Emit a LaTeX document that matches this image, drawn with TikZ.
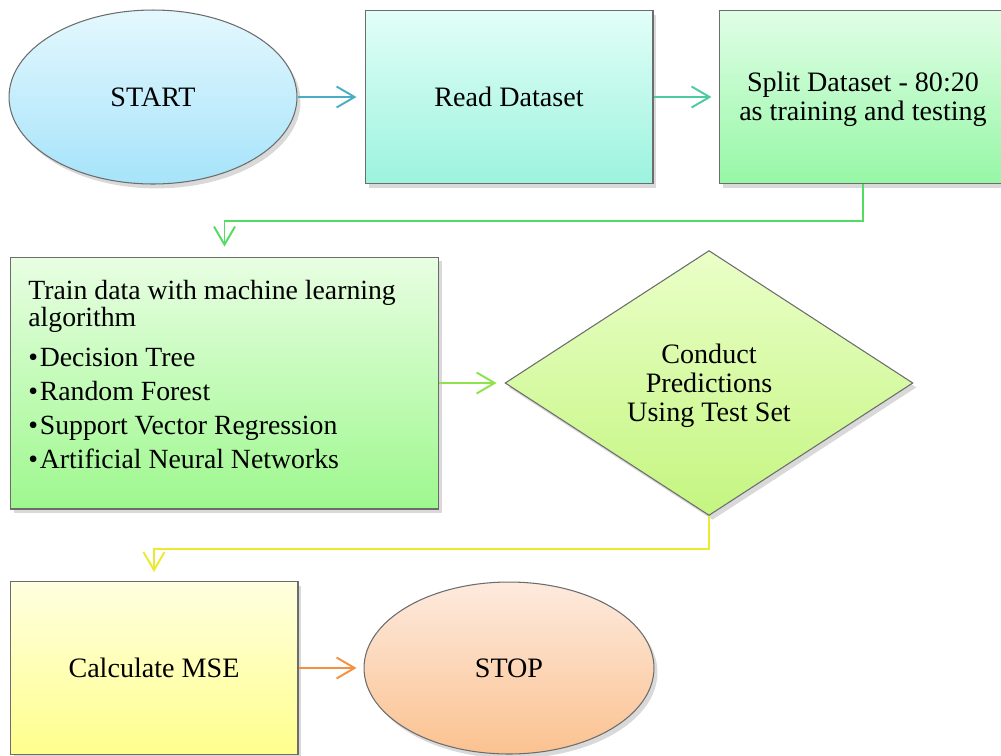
\documentclass[tikz,border=0pt]{standalone}
\usepackage{fontspec}
\setmainfont{Liberation Serif}
\usetikzlibrary{shapes.geometric,arrows.meta,shadows}
\definecolor{startT}{HTML}{E4F8FE}\definecolor{startB}{HTML}{A6E3FA}
\definecolor{readT}{HTML}{E2FEF8}\definecolor{readB}{HTML}{9CF3DE}
\definecolor{splitT}{HTML}{E0FEE6}\definecolor{splitB}{HTML}{96F7A6}
\definecolor{trainT}{HTML}{E8FEE2}\definecolor{trainB}{HTML}{9EF88E}
\definecolor{predT}{HTML}{EAFFC8}\definecolor{predB}{HTML}{C4F580}
\definecolor{calcT}{HTML}{FFFFE0}\definecolor{calcB}{HTML}{FFFF8C}
\definecolor{stopT}{HTML}{FDEADE}\definecolor{stopB}{HTML}{FBC290}
\definecolor{cA}{HTML}{4BACC6}\definecolor{cB}{HTML}{4CCBA0}
\definecolor{cC}{HTML}{52DC62}\definecolor{cD}{HTML}{8EE24A}
\definecolor{cE}{HTML}{EAEA30}\definecolor{cF}{HTML}{F59040}
\begin{document}
\begin{tikzpicture}[x=0.02cm,y=-0.02cm,
  box/.style={draw=gray!85!black, line width=0.6pt, inner sep=0pt,
    font=\fontsize{16}{16.5}\selectfont, align=center,
    drop shadow={shadow xshift=2pt,shadow yshift=-2.5pt,opacity=0.3}},
  arr/.style={line width=1.1pt, -{Straight Barb[length=3.6mm,width=4.2mm]}, shorten >=0.15cm}]
\useasboundingbox (0,0) rectangle (1001,755);
\clip (0,0) rectangle (1001,755);
\node[box, ellipse, minimum width=5.76cm, minimum height=3.48cm, top color=startT, bottom color=startB] (start) at (153,97) {START};
\node[box, rectangle, minimum width=5.76cm, minimum height=3.46cm, top color=readT, bottom color=readB] (read) at (509,97) {Read Dataset};
\node[box, rectangle, minimum width=5.76cm, minimum height=3.46cm, top color=splitT, bottom color=splitB] (split) at (863,97) {\rule{0pt}{14pt}Split Dataset - 80:20\\as training and testing};
\node[box, rectangle, minimum width=8.58cm, minimum height=5.04cm, top color=trainT, bottom color=trainB] (train) at (224.5,383) {};
\node[anchor=north west, inner sep=0pt, align=left, font=\fontsize{15.8}{15.3}\selectfont] (traintext) at (28,280)
  {Train data with machine learning\\algorithm\\[7.4pt]%
   •\hspace{1pt}Decision Tree\\[4pt]%
   •\hspace{1pt}Random Forest\\[4pt]%
   •\hspace{1pt}Support Vector Regression\\[4pt]%
   •\hspace{1pt}Artificial Neural Networks};
\node[box, diamond, minimum width=8.16cm, minimum height=5.3cm, top color=predT, bottom color=predB] (pred) at (709,383) {\rule{0pt}{14pt}Conduct\\Predictions\\Using Test Set};
\node[box, rectangle, minimum width=5.76cm, minimum height=3.46cm, top color=calcT, bottom color=calcB] (calc) at (154,668) {Calculate MSE};
\node[box, ellipse, minimum width=5.8cm, minimum height=3.44cm, top color=stopT, bottom color=stopB] (stop) at (509,668) {STOP};
\draw[arr, cA, shorten >=0.16cm] (start.east) -- (read.west);
\draw[arr, cB, shorten >=0.14cm] (read.east) -- (split.west);
\draw[arr, cC, shorten >=0.2cm] (split.south) -- ++(0,37) -| (train.north);
\draw[arr, cD, shorten >=0.16cm] (train.east) -- (pred.west);
\draw[arr, cE, shorten >=0.18cm] (pred.south) -- ++(0,33) -| (calc.north);
\draw[arr, cF, shorten >=0.14cm] (calc.east) -- (stop.west);
\end{tikzpicture}
\end{document}
